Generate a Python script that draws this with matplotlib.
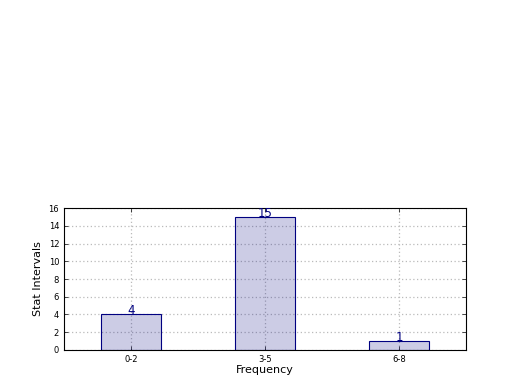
import matplotlib
matplotlib.use('Agg')
import matplotlib.pyplot as plt
import numpy as np

# Chart data
categories = ['0-2', '3-5', '6-8']
counts = [4, 15, 1]

fig = plt.figure(figsize=(5.2, 3.9), dpi=100)
ax = fig.add_axes([0.123, 0.1026, 0.773, 0.364])

x = np.arange(len(categories))
ax.bar(x, counts, width=0.45, color=(0, 0, 0.5, 0.2), edgecolor='navy', linewidth=0.8, zorder=2)

# Value labels on top of the bars
for xi, c in zip(x, counts):
    ax.text(xi, c + 0.4, str(c), ha='center', va='center', color='navy', fontsize=8.5, zorder=3)

ax.set_xlim(-0.5, 2.5)
ax.set_ylim(0, 16)
ax.set_yticks(np.arange(0, 17, 2))
ax.set_xticks(x)
ax.set_xticklabels(categories)
ax.tick_params(labelsize=6, direction='in', top=True, right=True, length=3, width=0.5)
ax.grid(True, linestyle=(0, (1, 2)), color='#bbbbbb', linewidth=0.9, zorder=0)
ax.set_axisbelow(True)
for s in ax.spines.values():
    s.set_linewidth(0.8)

ax.set_xlabel('Frequency', fontsize=8, labelpad=1)
ax.set_ylabel('Stat Intervals', fontsize=8, labelpad=4)

fig.savefig('out.png', dpi=100)
